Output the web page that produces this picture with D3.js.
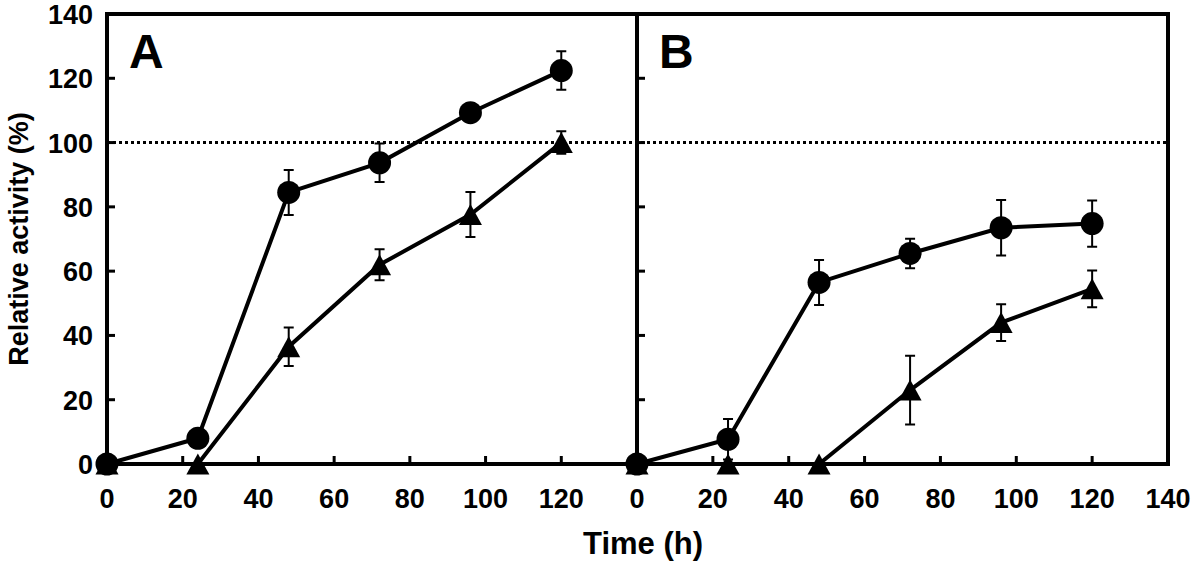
<!DOCTYPE html>
<html><head><meta charset="utf-8">
<script src="https://cdn.jsdelivr.net/npm/d3@7"></script>
<style>body{margin:0;background:#fff}text{font-family:"Liberation Sans",Arial,sans-serif;font-weight:bold}</style>
</head><body><svg id="c" width="1200" height="565"></svg>
<script>
const times = [0, 24, 48, 72, 96, 120];
const xTicksA = [0, 20, 40, 60, 80, 100, 120];
const xTicksB = [0, 20, 40, 60, 80, 100, 120, 140];
const yTicks = [0, 20, 40, 60, 80, 100, 120, 140];
const panelLabels = ["A", "B"];
// Panel A
const circleA = [0, 8, 84.5, 93.7, 109.3, 122.4];
const circleAErr = [0, 0, 7, 6, 1, 6];
const triA = [0, 0, 36.5, 62, 77.6, 100];
const triAErr = [0, 0, 6, 4.8, 7, 3.5];
// Panel B
const circleB = [0, 7.7, 56.5, 65.5, 73.5, 74.8];
const circleBErr = [0, 6.3, 7, 4.6, 8.6, 7.2];
const triB = [0, 0, 0, 23, 44, 54.5];
const triBErr = [0, 0, 0, 10.7, 5.7, 5.7];
const refLine = 100;

const svg = d3.select("#c");
const yTop = 14, yBottom = 464;
const y = d3.scaleLinear().domain([0, 140]).range([yBottom, yTop]);
const panels = [
  {x0: 107, x1: 637, circ: circleA, cErr: circleAErr, tri: triA, tErr: triAErr, ticks: xTicksA, yLabels: true},
  {x0: 637, x1: 1168, circ: circleB, cErr: circleBErr, tri: triB, tErr: triBErr, ticks: xTicksB, yLabels: false}
];

// triangle symbol centred on its bounding box
const boxTriangle = {
  draw(ctx, size) {
    const w = 23, h = 21;
    ctx.moveTo(0, -h / 2);
    ctx.lineTo(w / 2, h / 2);
    ctx.lineTo(-w / 2, h / 2);
    ctx.closePath();
  }
};

svg.append("line").attr("x1", 107).attr("x2", 1168).attr("y1", y(refLine)).attr("y2", y(refLine))
  .attr("stroke", "#000").attr("stroke-width", 3).attr("stroke-dasharray", "3,3");

panels.forEach((p, i) => {
  const x = d3.scaleLinear().domain([0, 140]).range([p.x0, p.x1]);
  const g = svg.append("g");
  g.selectAll(null).data(p.ticks.filter(t => t > 0 && t < 140)).enter().append("line")
    .attr("x1", d => x(d)).attr("x2", d => x(d)).attr("y1", yBottom).attr("y2", yBottom - 8)
    .attr("stroke", "#000").attr("stroke-width", 3);
  g.selectAll(null).data(yTicks.filter(t => t > 0 && t < 140)).enter().append("line")
    .attr("x1", p.x0).attr("x2", p.x0 + 8).attr("y1", d => y(d)).attr("y2", d => y(d))
    .attr("stroke", "#000").attr("stroke-width", 3);
  g.selectAll(null).data(p.ticks).enter().append("text")
    .attr("x", d => x(d)).attr("y", 508).attr("text-anchor", "middle")
    .attr("font-size", 27).text(d => d);
  if (p.yLabels) {
    g.selectAll(null).data(yTicks).enter().append("text")
      .attr("x", 93).attr("y", d => y(d) + 10).attr("text-anchor", "end")
      .attr("font-size", 27).text(d => d);
  }
  g.append("text").attr("x", p.x0 + 22).attr("y", 68).attr("font-size", 48).text(panelLabels[i]);

  const line = d3.line().x((d, j) => x(times[j])).y(d => y(d));
  g.append("path").datum(p.circ).attr("d", line).attr("fill", "none").attr("stroke", "#000").attr("stroke-width", 4);
  g.append("path").datum(p.tri).attr("d", line).attr("fill", "none").attr("stroke", "#000").attr("stroke-width", 4);

  function errBars(vals, errs) {
    const d = vals.map((v, j) => ({t: times[j], v, e: errs[j]})).filter(o => o.e > 0);
    g.selectAll(null).data(d).enter().append("path")
      .attr("d", o => {
        const cx = x(o.t), y1 = y(o.v + o.e), y2 = y(o.v - o.e);
        return `M${cx},${y1}V${y2}M${cx-5},${y1}H${cx+5}M${cx-5},${y2}H${cx+5}`;
      })
      .attr("fill", "none").attr("stroke", "#000").attr("stroke-width", 2);
  }
  errBars(p.circ, p.cErr);
  errBars(p.tri, p.tErr);

  const tri = d3.symbol().type(boxTriangle);
  g.selectAll(null).data(p.tri).enter().append("path")
    .attr("d", tri).attr("transform", (d, j) => `translate(${x(times[j])},${y(d)})`).attr("fill", "#000");
  g.selectAll(null).data(p.circ).enter().append("circle")
    .attr("cx", (d, j) => x(times[j])).attr("cy", d => y(d)).attr("r", 11.5).attr("fill", "#000");
});

svg.append("path").attr("d", `M107,${yTop}H1168V${yBottom}H107Z M637,${yTop}V${yBottom}`)
  .attr("fill", "none").attr("stroke", "#000").attr("stroke-width", 4);

svg.append("text").attr("x", 643).attr("y", 554).attr("text-anchor", "middle").attr("font-size", 31).text("Time (h)");
svg.append("text").attr("transform", "translate(28,239) rotate(-90)").attr("text-anchor", "middle").attr("font-size", 27).text("Relative activity (%)");
</script></body></html>
